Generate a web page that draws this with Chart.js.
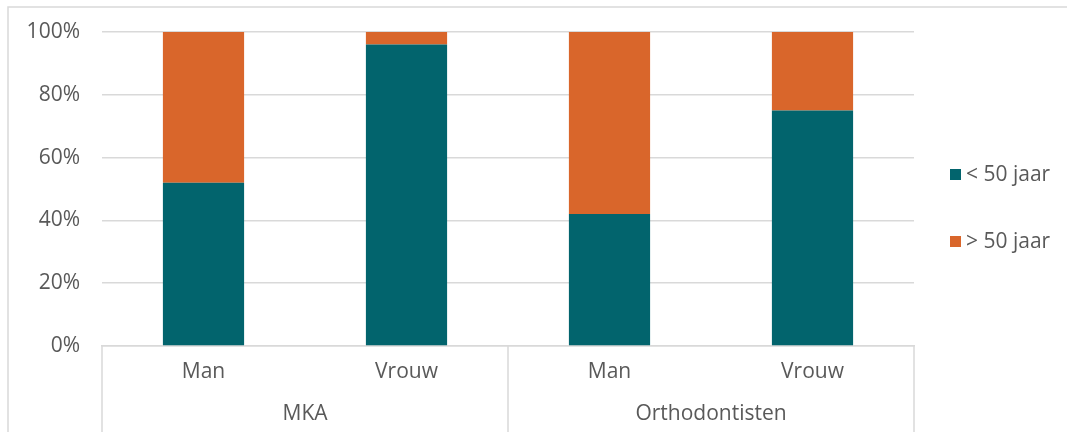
<!DOCTYPE html>
<html>
<head>
<meta charset="utf-8">
<script src="https://cdn.jsdelivr.net/npm/chart.js@4/dist/chart.umd.min.js"></script>
<style>
  html, body { margin: 0; padding: 0; background: #ffffff; }
  #wrap { width: 1067px; height: 432px; }
</style>
</head>
<body>
<div id="wrap"><canvas id="chart" width="1067" height="432"></canvas></div>
<script>
// Categories: gender within each professional group
const categories = ['Man', 'Vrouw', 'Man', 'Vrouw'];
const groups = ['MKA', 'Orthodontisten'];
const seriesNames = ['< 50 jaar', '> 50 jaar'];
// Share of each age band (percent)
const under50 = [52, 96, 42, 75];
const over50 = [48, 4, 58, 25];
const yTicks = [0, 20, 40, 60, 80, 100];

const TEAL = '#02646d';
const ORANGE = '#d9662b';
const TEXT = '#595959';
const LINE = '#d9d9d9';
const FONT = "'Open Sans', sans-serif";
const SIZE = 21;

// Outer frame, group separators and the right-hand legend
const decorations = {
  id: 'decorations',
  beforeDraw(chart) {
    const ctx = chart.ctx;
    ctx.save();
    ctx.strokeStyle = LINE;
    ctx.lineWidth = 1.5;
    ctx.beginPath();
    ctx.moveTo(8, chart.height);
    ctx.lineTo(8, 7);
    ctx.lineTo(chart.width, 7);
    ctx.stroke();
    ctx.restore();
  },
  afterDraw(chart) {
    const ctx = chart.ctx;
    const x = chart.scales.x;
    const top = x.top;
    const mid = (x.getPixelForValue(1) + x.getPixelForValue(2)) / 2;
    ctx.save();
    ctx.strokeStyle = LINE;
    ctx.lineWidth = 1.5;
    [x.left, mid, x.right].forEach(px => {
      ctx.beginPath();
      ctx.moveTo(px, top);
      ctx.lineTo(px, chart.height);
      ctx.stroke();
    });
    // legend
    ctx.font = SIZE + 'px ' + FONT;
    ctx.textBaseline = 'middle';
    ctx.textAlign = 'left';
    const ys = [174.5, 241.5];
    chart.data.datasets.forEach((ds, i) => {
      ctx.fillStyle = ds.backgroundColor;
      ctx.fillRect(950, ys[i] - 5.5, 11, 11);
      ctx.fillStyle = TEXT;
      ctx.fillText(ds.label, 966, ys[i] + 1);
    });
    ctx.restore();
  }
};

new Chart(document.getElementById('chart'), {
  type: 'bar',
  data: {
    labels: categories,
    datasets: [
      { label: seriesNames[0], data: under50, backgroundColor: TEAL,
        categoryPercentage: 1, barPercentage: 0.4, borderWidth: 0 },
      { label: seriesNames[1], data: over50, backgroundColor: ORANGE,
        categoryPercentage: 1, barPercentage: 0.4, borderWidth: 0 }
    ]
  },
  options: {
    responsive: false,
    animation: false,
    events: [],
    layout: { padding: { left: 0, top: 32, right: 153, bottom: 0 } },
    plugins: { legend: { display: false }, tooltip: { enabled: false } },
    scales: {
      x: {
        stacked: true,
        grid: { display: false, drawTicks: false },
        border: { display: true, color: LINE, width: 1.5 },
        ticks: { color: TEXT, font: { family: FONT, size: SIZE }, padding: 13 },
        afterFit: s => { s.height = 50; }
      },
      x2: {
        type: 'category',
        labels: groups,
        position: 'bottom',
        offset: true,
        grid: { display: false, drawTicks: false },
        border: { display: false },
        ticks: { color: TEXT, font: { family: FONT, size: SIZE }, padding: 5 },
        afterFit: s => { s.height = 36; }
      },
      y: {
        stacked: true,
        min: 0,
        max: 100,
        afterBuildTicks: s => { s.ticks = yTicks.map(v => ({ value: v })); },
        grid: { color: LINE, lineWidth: 1.5, drawTicks: false },
        border: { display: false },
        ticks: { color: TEXT, font: { family: FONT, size: SIZE }, padding: 22,
                 callback: v => v + '%' },
        afterFit: s => { s.width = 102; s.paddingTop = 0; s.paddingBottom = 0; }
      }
    }
  },
  plugins: [decorations]
});
</script>
</body>
</html>
